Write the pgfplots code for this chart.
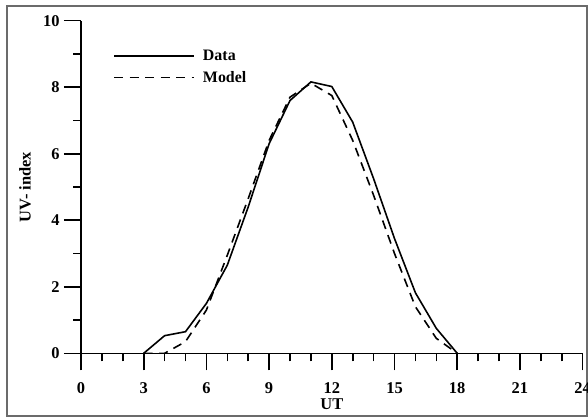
\documentclass[border=0pt]{standalone}
\usepackage{pgfplots}
\pgfplotsset{compat=1.18}
\usepackage{fontspec}
\setmainfont{Liberation Serif}
\begin{document}
\begin{tikzpicture}[x=1bp,y=1bp]
  % whole picture is 588 x 417 bp, origin at lower left
  \useasboundingbox (0,0) rectangle (588,417);
  \draw[line width=2bp, color=black!58] (7,1) rectangle (587,411);
  \begin{axis}[
    at={(81bp,63.7bp)}, anchor=south west,
    scale only axis,
    width=501.6bp, height=332.6bp,
    xmin=0, xmax=24, ymin=0, ymax=10,
    axis x line=bottom, axis y line=left,
    axis line style={-, line width=1.6bp},
    x axis line style={-}, y axis line style={-},
    xtick={0,3,...,24}, ytick={0,2,...,10},
    minor x tick num=2, minor y tick num=1,
    tick align=outside,
    major tick length=17bp, minor tick length=8bp,
    every tick/.style={black, line width=1.6bp},
    tick label style={font=\bfseries\fontsize{16.5}{18}\selectfont},
    xticklabel style={yshift=-9bp},
    yticklabel style={xshift=-1bp},
    /pgf/number format/assume math mode=true,
    label style={font=\bfseries\fontsize{16.5}{18}\selectfont},
    xlabel={UT}, ylabel={UV- index},
    xlabel style={at={(axis description cs:0.5,-0.1545)}, anchor=center, inner sep=0pt},
    ylabel style={at={(axis description cs:-0.1116,0.5)}, anchor=center, inner sep=0pt},
    legend style={draw=none, fill=none, at={(axis description cs:0.058,0.925)}, anchor=north west,
      font=\bfseries\fontsize{16}{18}\selectfont, row sep=5.5bp},
    legend cell align=left,
    legend image code/.code={\draw[#1, line width=1.8bp] (0bp,0bp) -- (80bp,0bp); \path (86bp,0bp);},
  ]
    \addplot[black, line width=1.6bp] coordinates {
      (3,0) (4,0.53) (5,0.65) (6,1.5) (7,2.65) (8,4.4) (9,6.3) (10,7.6) (11,8.16)
      (12,8.02) (13,6.95) (14,5.25) (15,3.45) (16,1.82) (17,0.75) (18,0)
    };
    \addlegendentry{Data}
    \addplot[black, line width=1.6bp, dash pattern=on 9bp off 6.5bp] coordinates {
      (3,0) (4,0) (5,0.35) (6,1.3) (7,2.95) (8,4.65) (9,6.4) (10,7.7) (11,8.12)
      (12,7.75) (13,6.4) (14,4.75) (15,3.0) (16,1.4) (17,0.45) (18,0)
    };
    \addlegendentry{Model}
  \end{axis}
\end{tikzpicture}
\end{document}
